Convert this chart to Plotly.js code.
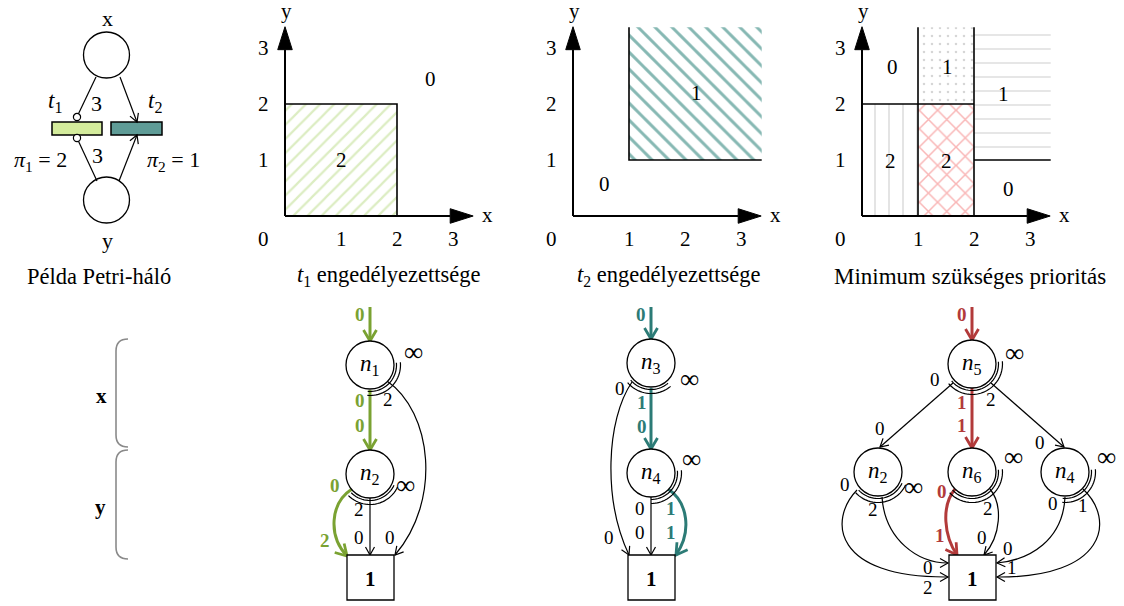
<!DOCTYPE html>
<html><head><meta charset="utf-8">
<script src="https://cdn.plot.ly/plotly-3.0.1.min.js"></script>
<style>html,body{margin:0;padding:0;background:#fff}#plot{width:1124px;height:606px}</style>
</head><body><div id="plot"></div>
<script>
// ---------- data ----------
const tickValues = [1, 2, 3];
const tickLabels = ['1', '2', '3'];
const axisMax = 3.37;

// t1 enabledness: region where t1 is enabled (priority 2)
const t1RegionX = [0, 2, 2, 0, 0];
const t1RegionY = [0, 0, 2, 2, 0];
const t1Values = ['2', '0'];
const t1LabelX = [1.0, 2.6];
const t1LabelY = [1.0, 2.45];

// t2 enabledness: region x>=1, y>=1 (priority 1)
const t2RegionX = [1, axisMax, axisMax, 1, 1];
const t2RegionY = [1, 1, axisMax, axisMax, 1];
const t2Values = ['1', '0'];
const t2LabelX = [2.2, 0.57];
const t2LabelY = [2.2, 0.57];

// minimum required priority regions
const prioX0 = [0, 1, 1, 2];
const prioX1 = [1, 2, 2, axisMax];
const prioY0 = [0, 0, 2, 1];
const prioY1 = [2, 2, axisMax, axisMax];
const prioPatterns = ['|', 'x', '.', '-'];
const prioValues = ['0', '1', '1', '2', '2', '0'];
const prioLabelX = [0.54, 1.52, 2.52, 0.5, 1.5, 2.61];
const prioLabelY = [2.66, 2.66, 2.18, 0.98, 0.98, 0.48];
const prioLinesX = [[1, 1], [2, 2], [0, 2], [2, axisMax]];
const prioLinesY = [[0, axisMax], [0, axisMax], [2, 2], [1, 1]];

// decision diagram edge labels
const dd1Labels = { inTop: '0', n1n2: ['0', '0'], n1Inf: '∞', n1Two: '2', n1Box: '0', n2Inf: '∞', n2Two: '2', n2Box: '0', n2Green: ['0', '2'] };

// ---------- helpers ----------
const FONT = 'Liberation Serif, DejaVu Serif, serif';
const GREEN = '#7aa232', TEAL = '#2c7b76', RED = '#b23a3a';
const shapes = [], ann = [], traces = [];
const U = 56;

function P(x, y) { return x.toFixed(2) + ',' + y.toFixed(2); }
function pathS(d, color, w, fill, xr, yr) {
  shapes.push({ type: 'path', xref: xr || 'x', yref: yr || 'y', path: d, line: { color: color, width: w }, fillcolor: fill || 'rgba(0,0,0,0)' });
}
function lineS(x0, y0, x1, y1, color, w, xr, yr) {
  shapes.push({ type: 'line', xref: xr || 'x', yref: yr || 'y', x0: x0, y0: y0, x1: x1, y1: y1, line: { color: color, width: w } });
}
function circ(cx, cy, r, w, fill) {
  shapes.push({ type: 'circle', xref: 'x', yref: 'y', x0: cx - r, x1: cx + r, y0: cy - r, y1: cy + r, line: { color: '#000', width: w }, fillcolor: fill || 'rgba(0,0,0,0)' });
}
function head(tx, ty, dx, dy, color, big) {
  const L = big ? 11 : 8, W = big ? 6.5 : 4.5, w = big ? 2.8 : 1.2;
  const n = Math.hypot(dx, dy); dx /= n; dy /= n;
  const px = -dy, py = dx;
  pathS('M' + P(tx - L * dx + W * px, ty - L * dy + W * py) + ' L' + P(tx, ty) + ' L' + P(tx - L * dx - W * px, ty - L * dy - W * py), color, w);
}
function arrow(x0, y0, x1, y1, color, big) {
  lineS(x0, y0, x1, y1, color, big ? 3 : 1.2);
  head(x1, y1, x1 - x0, y1 - y0, color, big);
}
function curve(p0, c1, c2, p3, color, big) {
  pathS('M' + P(p0[0], p0[1]) + ' C' + P(c1[0], c1[1]) + ' ' + P(c2[0], c2[1]) + ' ' + P(p3[0], p3[1]), color, big ? 3 : 1.2);
  head(p3[0], p3[1], p3[0] - c2[0], p3[1] - c2[1], color, big);
}
function arcs(cx, cy, r, a0, a1) {
  [r + 2.5, r + 6.5].forEach(R => {
    let d = '';
    const n = 24;
    for (let i = 0; i <= n; i++) {
      const a = (a0 + (a1 - a0) * i / n) * Math.PI / 180;
      d += (i ? ' L' : 'M') + P(cx + R * Math.cos(a), cy + R * Math.sin(a));
    }
    pathS(d, '#000', 1.2);
  });
}
function txt(x, y, text, size, color, extra) {
  ann.push(Object.assign({ x: x, y: y, xref: 'x', yref: 'y', text: text, showarrow: false,
    font: { family: FONT, size: size || 18, color: color || '#000' }, xanchor: 'center', yanchor: 'middle' }, extra || {}));
}
function bold(s) { return '<b>' + s + '</b>'; }

// ---------- Petri net ----------
circ(106.5, 55, 23, 1.3);
circ(106.5, 200, 23, 1.3);
txt(107, 18, 'x', 22);
txt(107, 240, 'y', 22);
shapes.push({ type: 'rect', xref: 'x', yref: 'y', x0: 52, x1: 102, y0: 122, y1: 135, line: { color: '#000', width: 1.5 }, fillcolor: '#d4ec9c' });
shapes.push({ type: 'rect', xref: 'x', yref: 'y', x0: 111, x1: 162, y0: 122, y1: 135, line: { color: '#000', width: 1.5 }, fillcolor: '#5f9c97' });
lineS(96, 77, 78.6, 113.6, '#000', 1.2);
circ(77, 117, 3.6, 1.2, '#fff');
lineS(97, 181, 78.6, 141.4, '#000', 1.2);
circ(77, 138, 3.6, 1.2, '#fff');
arrow(120, 77, 137, 122, '#000');
arrow(119, 181, 137, 135, '#000');
txt(96, 103, '3', 22);
txt(97, 155, '3', 22);
txt(55, 102, '<i>t</i><sub>1</sub>', 23);
txt(155, 102, '<i>t</i><sub>2</sub>', 23);
txt(40, 161, '<i>π</i><sub>1</sub> = 2', 22);
txt(173, 161, '<i>π</i><sub>2</sub> = 1', 22);

// ---------- titles ----------
txt(99, 276, 'Példa Petri-háló', 22.5);
txt(388, 276, '<i>t</i><sub>1</sub> engedélyezettsége', 22.5);
txt(668, 276, '<i>t</i><sub>2</sub> engedélyezettsége', 22.5);
txt(970, 276, 'Minimum szükséges prioritás', 23);

// ---------- charts ----------
const charts = [
  { ox: 285, oy: 216, xa: 'x2', ya: 'y2' },
  { ox: 573, oy: 216, xa: 'x3', ya: 'y3' },
  { ox: 862, oy: 216, xa: 'x4', ya: 'y4' }
];
function region(c, xs, ys, pat, fg, size, sol) {
  traces.push({ type: 'scatter', mode: 'lines', x: xs, y: ys, xaxis: c.xa, yaxis: c.ya, fill: 'toself',
    fillcolor: 'rgba(0,0,0,0)', line: { width: 0, color: 'rgba(0,0,0,0)' }, hoverinfo: 'skip', showlegend: false,
    fillpattern: { shape: pat, fgcolor: fg, bgcolor: 'rgba(255,255,255,0)', size: size, solidity: sol } });
}
function border(c, xs, ys) {
  traces.push({ type: 'scatter', mode: 'lines', x: xs, y: ys, xaxis: c.xa, yaxis: c.ya, line: { color: '#000', width: 1.6 }, hoverinfo: 'skip', showlegend: false });
}
function ctxt(c, x, y, text, size) {
  ann.push({ x: x, y: y, xref: c.xa, yref: c.ya, text: text, showarrow: false, font: { family: FONT, size: size || 21, color: '#000' }, xanchor: 'center', yanchor: 'middle' });
}
function axesDraw(c) {
  const xr = c.xa, yr = c.ya;
  const tipX = 3.36, tipY = 3.38, L = 23 / U, W = 7 / U;
  lineS(0, 0, tipX - L, 0, '#000', 2, xr, yr);
  lineS(0, 0, 0, tipY - L, '#000', 2, xr, yr);
  pathS('M' + P(tipX - L, W) + ' L' + P(tipX, 0) + ' L' + P(tipX - L, -W) + ' Z', '#000', 1, '#000', xr, yr);
  pathS('M' + P(-W, tipY - L) + ' L' + P(0, tipY) + ' L' + P(W, tipY - L) + ' Z', '#000', 1, '#000', xr, yr);
  tickValues.forEach((v, i) => { ctxt(c, v, -0.41, tickLabels[i]); ctxt(c, -0.385, v, tickLabels[i]); });
  ctxt(c, -0.385, -0.41, '0');
  ctxt(c, 3.62, 0.02, 'x');
  ctxt(c, 0.03, 3.66, 'y');
}
// chart 1
region(charts[0], t1RegionX, t1RegionY, '/', '#dcedc2', 10, 0.22);
border(charts[0], [2, 2, 0], [0, 2, 2]);
t1Values.forEach((t, i) => ctxt(charts[0], t1LabelX[i], t1LabelY[i], t));
// chart 2
region(charts[1], t2RegionX, t2RegionY, '\\', '#86b8b3', 12, 0.25);
border(charts[1], [1, 1, axisMax], [axisMax, 1, 1]);
t2Values.forEach((t, i) => ctxt(charts[1], t2LabelX[i], t2LabelY[i], t));
// chart 3
const prioFg = ['#d8d8d8', '#f9b6b6', '#d6d6d6', '#d8d8d8'];
const prioSize = [14, 13, 8, 14];
const prioSol = [0.1, 0.22, 0.08, 0.09];
prioX0.forEach((x0, i) => {
  region(charts[2], [x0, prioX1[i], prioX1[i], x0, x0], [prioY0[i], prioY0[i], prioY1[i], prioY1[i], prioY0[i]], prioPatterns[i], prioFg[i], prioSize[i], prioSol[i]);
});
prioLinesX.forEach((xs, i) => border(charts[2], xs, prioLinesY[i]));
prioValues.forEach((t, i) => ctxt(charts[2], prioLabelX[i], prioLabelY[i], t));
charts.forEach(axesDraw);

// ---------- braces ----------
pathS('M128,339 Q116,339 116,351 L116,435 Q116,447 128,447', '#8a8a8a', 1.6);
pathS('M128,450 Q116,450 116,462 L116,547 Q116,559 128,559', '#8a8a8a', 1.6);
txt(101, 396, bold('x'), 21);
txt(100, 507, bold('y'), 21);

// ---------- decision diagrams ----------
const R = 24;
function node(cx, cy, label) { circ(cx, cy, R, 1.3, '#fff'); txt(cx, cy, label, 23); }
function box(x0, x1, y0, y1) {
  shapes.push({ type: 'rect', xref: 'x', yref: 'y', x0: x0, x1: x1, y0: y0, y1: y1, line: { color: '#000', width: 1.3 }, fillcolor: '#fff' });
  txt((x0 + x1) / 2, (y0 + y1) / 2 + 1, bold('1'), 21);
}
const lbl = 19, inf = 27;

// diagram 1
arrow(370, 307, 370, 341, GREEN, true);
txt(360, 314, bold(dd1Labels.inTop), lbl, GREEN);
arrow(370, 390, 370, 450, GREEN, true);
txt(360, 400, bold(dd1Labels.n1n2[0]), lbl, GREEN);
txt(360, 425, bold(dd1Labels.n1n2[1]), lbl, GREEN);
curve([387, 381], [432, 412], [442, 500], [395, 555], '#000');
arrow(370, 498, 370, 555, '#000');
curve([352, 489], [330, 503], [328, 536], [347, 556], GREEN, true);
arcs(370, 365, R, -5, 95);
arcs(370, 474, R, 25, 135);
node(370, 365, '<i>n</i><sub>1</sub>');
node(370, 474, '<i>n</i><sub>2</sub>');
box(347, 394, 555, 600);
txt(413, 352, dd1Labels.n1Inf, inf);
txt(388, 399, dd1Labels.n1Two, lbl);
txt(405, 485, dd1Labels.n2Inf, inf);
txt(359, 509, dd1Labels.n2Two, lbl);
txt(359, 537, dd1Labels.n2Box, lbl);
txt(390, 537, dd1Labels.n1Box, lbl);
txt(335, 485, bold(dd1Labels.n2Green[0]), lbl, GREEN);
txt(325, 540, bold(dd1Labels.n2Green[1]), lbl, GREEN);

// diagram 2
arrow(651, 307, 651, 339, TEAL, true);
txt(641, 314, bold('0'), lbl, TEAL);
arrow(651, 388, 651, 449, TEAL, true);
txt(642, 402, bold('1'), lbl, TEAL);
txt(642, 426, bold('0'), lbl, TEAL);
curve([632, 382], [606, 420], [603, 500], [629, 555], '#000');
arrow(651, 497, 651, 555, '#000');
curve([668, 489], [688, 502], [692, 532], [676, 555], TEAL, true);
arcs(651, 363, R, 50, 140);
arcs(651, 473, R, -5, 90);
node(651, 363, '<i>n</i><sub>3</sub>');
node(651, 473, '<i>n</i><sub>4</sub>');
box(628, 675, 555, 600);
txt(689, 379, '∞', inf);
txt(620, 388, '0', lbl);
txt(609, 537, '0', lbl);
txt(691, 459, '∞', inf);
txt(640, 508, '0', lbl);
txt(640, 532, '0', lbl);
txt(671, 508, bold('1'), lbl, TEAL);
txt(671, 532, bold('1'), lbl, TEAL);

// diagram 3
arrow(972, 307, 972, 340, RED, true);
txt(962, 314, bold('0'), lbl, RED);
arrow(972, 388, 972, 448, RED, true);
txt(962, 402, bold('1'), lbl, RED);
txt(962, 425, bold('1'), lbl, RED);
arrow(953, 383, 880, 447, '#000');
arrow(991, 383, 1064, 447, '#000');
curve([857, 490], [828, 520], [833, 578], [948, 577], '#000');
curve([882, 497], [885, 540], [918, 563], [948, 563], '#000');
curve([955, 489], [941, 506], [944, 536], [957, 555], RED, true);
curve([990, 489], [1003, 505], [1001, 536], [984, 555], '#000');
curve([1065, 497], [1063, 540], [1030, 560], [997, 563], '#000');
curve([1083, 489], [1116, 520], [1106, 578], [997, 577], '#000');
arcs(972, 364, R, -5, 140);
arcs(878, 472, R, 25, 137);
arcs(972, 472, R, -5, 137);
arcs(1065, 472, R, -5, 95);
node(972, 364, '<i>n</i><sub>5</sub>');
node(878, 472, '<i>n</i><sub>2</sub>');
node(972, 472, '<i>n</i><sub>6</sub>');
node(1065, 472, '<i>n</i><sub>4</sub>');
box(949, 996, 555, 600);
txt(1014, 353, '∞', inf);
txt(935, 379, '0', lbl);
txt(991, 399, '2', lbl);
txt(880, 428, '0', lbl);
txt(1040, 442, '0', lbl);
txt(913, 487, '∞', inf);
txt(845, 484, '0', lbl);
txt(873, 509, '2', lbl);
txt(1013, 457, '∞', inf);
txt(942, 491, bold('0'), lbl, RED);
txt(988, 508, '2', lbl);
txt(940, 535, bold('1'), lbl, RED);
txt(982, 537, '0', lbl);
txt(1106, 457, '∞', inf);
txt(1053, 503, '0', lbl);
txt(1083, 505, '1', lbl);
txt(928, 567, '0', lbl);
txt(928, 587, '2', lbl);
txt(1008, 548, '0', lbl);
txt(1012, 567, '1', lbl);

// ---------- layout ----------
traces.unshift({ type: 'scatter', mode: 'markers', x: [null], y: [null], xaxis: 'x', yaxis: 'y', showlegend: false, hoverinfo: 'skip' });
const layout = {
  width: 1124, height: 606, margin: { l: 0, r: 0, t: 0, b: 0 },
  paper_bgcolor: '#fff', plot_bgcolor: 'rgba(0,0,0,0)', showlegend: false, hovermode: false,
  xaxis: { domain: [0, 1], range: [0, 1124], visible: false, fixedrange: true },
  yaxis: { domain: [0, 1], range: [606, 0], visible: false, fixedrange: true },
  shapes: shapes, annotations: ann
};
charts.forEach((c, i) => {
  const k = i + 2;
  layout['xaxis' + k] = { overlaying: 'x', anchor: 'y' + k, range: [-c.ox / U, (1124 - c.ox) / U], visible: false, fixedrange: true };
  layout['yaxis' + k] = { overlaying: 'y', anchor: 'x' + k, range: [(c.oy - 606) / U, c.oy / U], visible: false, fixedrange: true };
});
Plotly.newPlot('plot', traces, layout, { staticPlot: true, displayModeBar: false });
</script></body></html>
